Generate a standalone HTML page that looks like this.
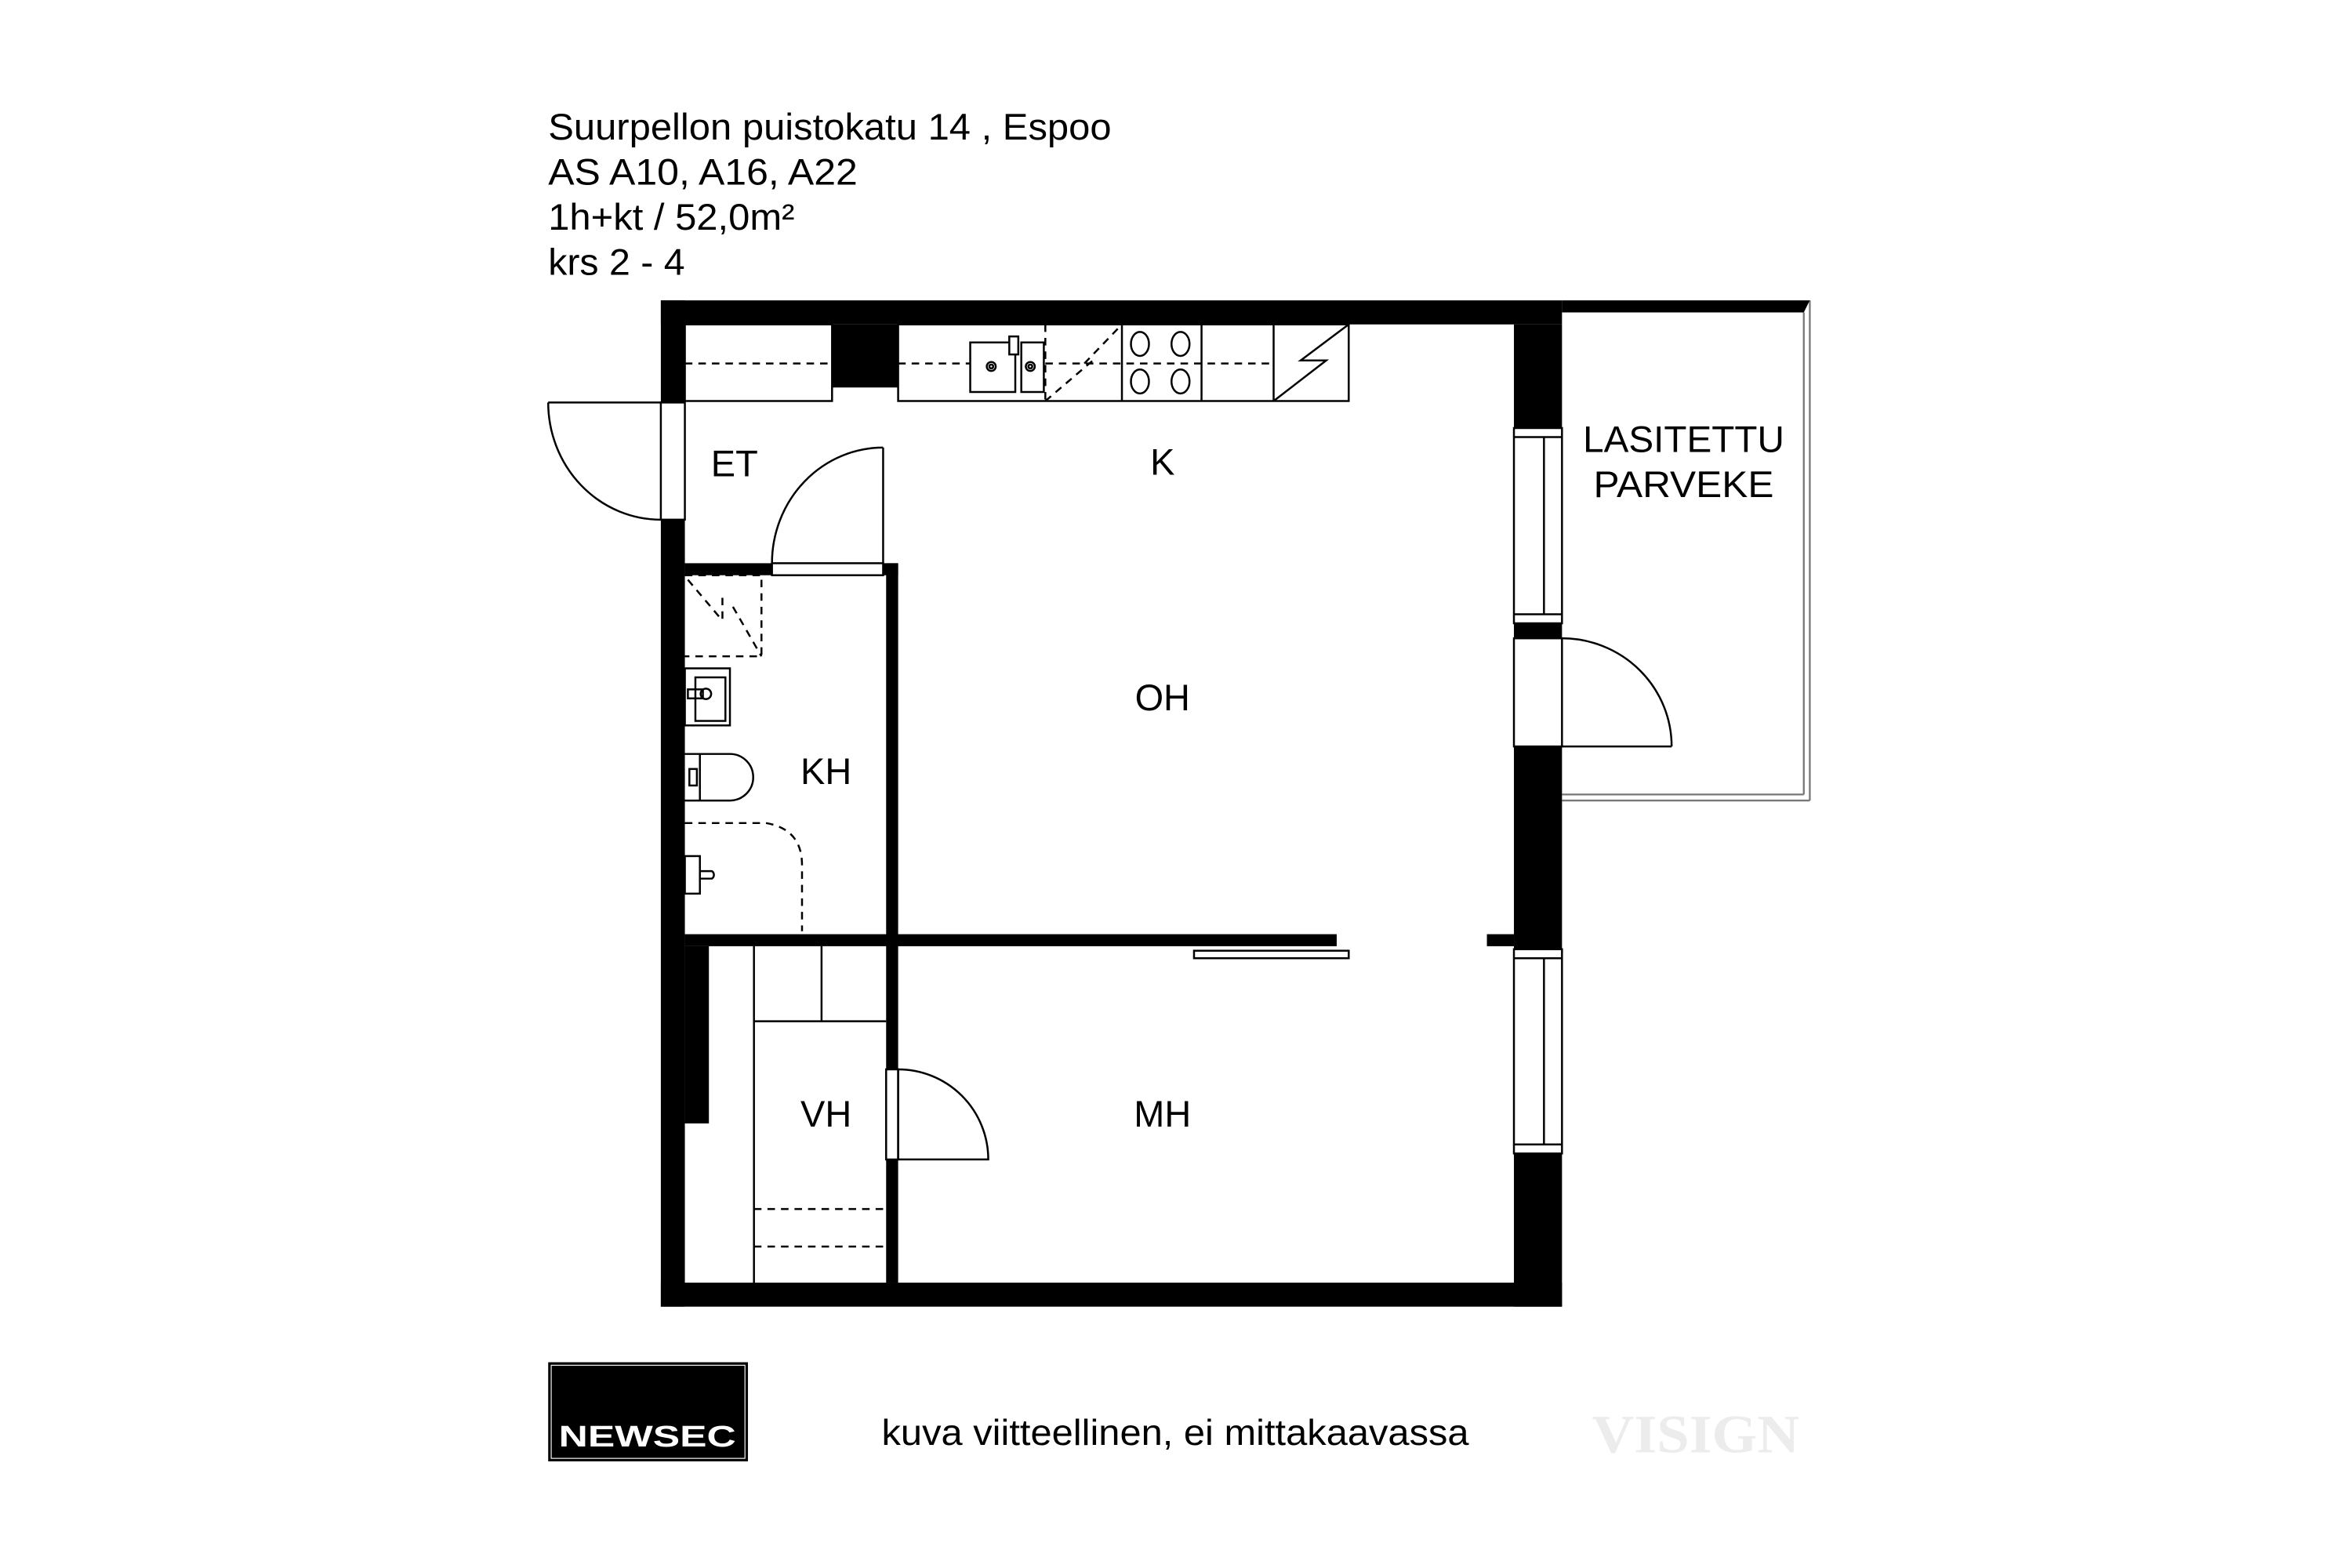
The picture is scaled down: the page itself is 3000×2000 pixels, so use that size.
<!DOCTYPE html>
<html><head><meta charset="utf-8"><style>
html,body{margin:0;padding:0;background:#fff;}
svg{display:block;}
text{font-family:"Liberation Sans",sans-serif;fill:#000;}
</style></head><body>
<svg width="3000" height="2000" viewBox="0 0 1566 1044" preserveAspectRatio="none" xmlns="http://www.w3.org/2000/svg">
<rect width="1566" height="1044" fill="#fff"/>
<!-- header -->
<g font-size="24.5">
<text x="365" y="93" textLength="375" lengthAdjust="spacingAndGlyphs">Suurpellon puistokatu 14 , Espoo</text>
<text x="365" y="123" textLength="206" lengthAdjust="spacingAndGlyphs">AS A10, A16, A22</text>
<text x="365" y="153" textLength="164" lengthAdjust="spacingAndGlyphs">1h+kt / 52,0m²</text>
<text x="365" y="183" textLength="91" lengthAdjust="spacingAndGlyphs">krs 2 - 4</text>
</g>
<!-- balcony -->
<g fill="none" stroke="#777" stroke-width="1.2">
<line x1="1201" y1="208" x2="1201" y2="529"/>
<line x1="1205" y1="200" x2="1205" y2="533"/>
<line x1="1040" y1="529" x2="1201" y2="529"/>
<line x1="1040" y1="533" x2="1205" y2="533"/>
</g>
<!-- walls -->
<g fill="#000">
<rect x="440" y="200" width="600" height="16"/>
<polygon points="1040,200 1205,200 1201,208 1040,208"/>
<rect x="440" y="200" width="16" height="68"/>
<rect x="440" y="346" width="16" height="524"/>
<rect x="554" y="216" width="44" height="42"/>
<rect x="456" y="375" width="58" height="8"/>
<rect x="588" y="375" width="10" height="8"/>
<rect x="590" y="375" width="8" height="337"/>
<rect x="590" y="772" width="8" height="82"/>
<rect x="456" y="622" width="434" height="8"/>
<rect x="990" y="622" width="18" height="8"/>
<rect x="456" y="630" width="16" height="118"/>
<rect x="440" y="854" width="600" height="16"/>
<rect x="1008" y="216" width="32" height="69"/>
<rect x="1008" y="415" width="32" height="10"/>
<rect x="1008" y="497" width="32" height="135"/>
<rect x="1008" y="768" width="32" height="102"/>
</g>
<g fill="none" stroke="#000" stroke-width="1.3">
<rect x="440" y="268" width="16" height="78" fill="#fff"/>
<line x1="365" y1="268" x2="440" y2="268"/>
<path d="M365,268 A75,78 0 0 0 440,346"/>
<rect x="456" y="216" width="98" height="51"/>
<line x1="456" y1="242" x2="554" y2="242" stroke-dasharray="5,4"/>
<rect x="598" y="216" width="300" height="51"/>
<line x1="598" y1="242" x2="646" y2="242" stroke-dasharray="5,4"/>
<line x1="696" y1="242" x2="848" y2="242" stroke-dasharray="5,4"/>
<line x1="696" y1="216" x2="696" y2="267" stroke-dasharray="5,4"/>
<line x1="747" y1="216" x2="747" y2="267"/>
<line x1="800" y1="216" x2="800" y2="267"/>
<line x1="848" y1="216" x2="848" y2="267"/>
<path d="M696,267 L730,238 M722,242 L747,216" stroke-dasharray="5,4"/>
<rect x="646" y="228" width="30" height="33"/>
<rect x="680" y="228" width="15" height="33"/>
<rect x="672" y="224" width="6" height="12" fill="#fff"/>
<circle cx="660" cy="244" r="3"/><circle cx="660" cy="244" r="1.3"/>
<circle cx="686" cy="244" r="3"/><circle cx="686" cy="244" r="1.3"/>
<ellipse cx="759" cy="229" rx="6" ry="8"/><ellipse cx="786" cy="229" rx="6" ry="8"/>
<ellipse cx="759" cy="254" rx="6" ry="8"/><ellipse cx="786" cy="254" rx="6" ry="8"/>
<path d="M848,267 L883,240 L866,240 L898,216"/>
<rect x="514" y="375" width="74" height="8" fill="#fff"/>
<line x1="588" y1="298" x2="588" y2="375"/>
<path d="M588,298 A74,77 0 0 0 514,375"/>
<path d="M456,383 L507,383 L507,437 L456,437" stroke-dasharray="5,4"/>
<path d="M458,386 L480,412 M481,398 L481,414 M488,404 L507,437" stroke-dasharray="5,4"/>
<rect x="456" y="445" width="30" height="38"/>
<rect x="463" y="451" width="20" height="29"/>
<rect x="458" y="459" width="10" height="6"/>
<circle cx="470" cy="462" r="3.5"/>
<path d="M456,502 L486,502 A15.5,15.5 0 0 1 486,533 L456,533"/>
<line x1="466" y1="502" x2="466" y2="533"/>
<rect x="459" y="512" width="5" height="11"/>
<path d="M456,548 L510,548 Q534,552 534,576 L534,620" stroke-dasharray="5,4"/>
<rect x="456" y="570" width="10" height="25"/>
<path d="M466,580 L474,580 A3,3 0 0 1 474,585 L466,585"/>
<rect x="795" y="633" width="103" height="5"/>
<line x1="502" y1="630" x2="502" y2="854"/>
<line x1="547" y1="630" x2="547" y2="680"/>
<line x1="502" y1="680" x2="590" y2="680"/>
<line x1="502" y1="805" x2="590" y2="805" stroke-dasharray="5,4"/>
<line x1="502" y1="830" x2="590" y2="830" stroke-dasharray="5,4"/>
<rect x="590" y="712" width="8" height="60" fill="#fff"/>
<line x1="598" y1="712" x2="598" y2="772"/>
<path d="M598,712 A60,60 0 0 1 658,772 L598,772"/>
<rect x="1008" y="285" width="32" height="130" fill="#fff"/>
<line x1="1008" y1="291" x2="1040" y2="291"/>
<line x1="1008" y1="409" x2="1040" y2="409"/>
<line x1="1028" y1="291" x2="1028" y2="409"/>
<rect x="1008" y="632" width="32" height="136" fill="#fff"/>
<line x1="1008" y1="638" x2="1040" y2="638"/>
<line x1="1008" y1="762" x2="1040" y2="762"/>
<line x1="1028" y1="638" x2="1028" y2="762"/>
<rect x="1008" y="425" width="32" height="72" fill="#fff"/>
<line x1="1040" y1="497" x2="1113" y2="497"/>
<path d="M1040,425 A73,72 0 0 1 1113,497"/>
</g>
<!-- labels -->
<g font-size="24.5" text-anchor="middle">
<text x="489" y="317">ET</text>
<text x="774" y="316">K</text>
<text x="774" y="473">OH</text>
<text x="550" y="522">KH</text>
<text x="550" y="750">VH</text>
<text x="774" y="750">MH</text>
<text x="1121" y="301" textLength="134" lengthAdjust="spacingAndGlyphs">LASITETTU</text>
<text x="1121" y="331" textLength="120" lengthAdjust="spacingAndGlyphs">PARVEKE</text>
</g>
<!-- footer -->
<rect x="365" y="907" width="133" height="66" fill="#000"/>
<rect x="367" y="909" width="129" height="62" fill="none" stroke="#fff" stroke-width="0.6"/>
<text x="372" y="963" font-size="20" style="fill:#fff;font-weight:bold" textLength="118" lengthAdjust="spacingAndGlyphs">NEWSEC</text>
<text x="587" y="962" font-size="24" textLength="391" lengthAdjust="spacingAndGlyphs">kuva viitteellinen, ei mittakaavassa</text>
<text x="1060" y="967" font-size="36" style="font-family:'Liberation Serif',serif;fill:#ececec;font-weight:bold" textLength="138" lengthAdjust="spacingAndGlyphs">VISIGN</text>
</svg>
</body></html>
